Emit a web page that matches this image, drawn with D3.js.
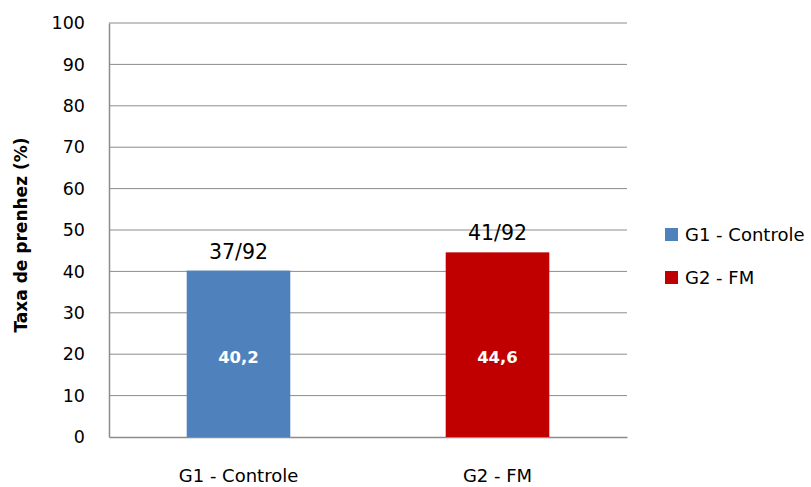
<!DOCTYPE html>
<html>
<head>
<meta charset="utf-8">
<script src="https://cdn.jsdelivr.net/npm/d3@7"></script>
<style>
  html, body { margin: 0; padding: 0; background: #fff; }
  svg { display: block; }
  text { font-family: "DejaVu Sans", sans-serif; }
</style>
</head>
<body>
<svg id="chart" width="811" height="487"></svg>
<script>
// Pregnancy rate by group
const categories = ["G1 - Controle", "G2 - FM"];
const rates = [40.2, 44.6];
const rateLabels = ["40,2", "44,6"];
const countLabels = ["37/92", "41/92"];
const colors = ["#4F81BD", "#C00000"];
const yTicks = [0, 10, 20, 30, 40, 50, 60, 70, 80, 90, 100];

const svg = d3.select("#chart");
const plotLeft = 109, plotRight = 627, plotTop = 23, plotBottom = 437;
const fontFamily = "'DejaVu Sans', sans-serif";

const x = d3.scaleBand()
  .domain(categories)
  .range([plotLeft, plotRight])
  .paddingInner(0.6)
  .paddingOuter(0.3);

const y = d3.scaleLinear().domain([0, 100]).range([plotBottom, plotTop]);

// Horizontal gridlines
svg.append("g")
  .selectAll("line")
  .data(yTicks.filter(d => d > 0))
  .join("line")
  .attr("x1", plotLeft).attr("x2", plotRight)
  .attr("y1", d => y(d)).attr("y2", d => y(d))
  .attr("stroke", "#8c8c8c")
  .attr("stroke-width", 1);

// Y axis: tick labels and the axis line
const yAxis = svg.append("g")
  .attr("transform", `translate(${plotLeft},0)`)
  .call(d3.axisLeft(y).tickValues(yTicks).tickSize(0).tickPadding(24));
yAxis.select(".domain").attr("stroke", "#8c8c8c").attr("stroke-width", 1.5);
yAxis.selectAll("text")
  .attr("font-size", 17.5)
  .attr("fill", "#000")
  .style("font-family", fontFamily);

// X axis
const xAxis = svg.append("g")
  .attr("transform", `translate(0,${plotBottom})`)
  .call(d3.axisBottom(x).tickSize(0).tickPadding(32));
xAxis.select(".domain").attr("stroke", "#8c8c8c").attr("stroke-width", 1.5);
xAxis.selectAll("text")
  .attr("font-size", 18)
  .attr("fill", "#000")
  .style("font-family", fontFamily);

// Bars
svg.append("g")
  .selectAll("rect")
  .data(rates)
  .join("rect")
  .attr("x", (d, i) => x(categories[i]))
  .attr("width", x.bandwidth())
  .attr("y", d => y(d))
  .attr("height", d => y(0) - y(d))
  .attr("fill", (d, i) => colors[i]);

// Value labels inside bars
svg.append("g")
  .selectAll("text")
  .data(rates)
  .join("text")
  .attr("x", (d, i) => x(categories[i]) + x.bandwidth() / 2)
  .attr("y", y(19.3))
  .attr("dy", "0.36em")
  .attr("text-anchor", "middle")
  .attr("font-size", 16.5)
  .attr("font-weight", "bold")
  .attr("fill", "#fff")
  .text((d, i) => rateLabels[i]);

// Count labels above bars
svg.append("g")
  .selectAll("text")
  .data(rates)
  .join("text")
  .attr("x", (d, i) => x(categories[i]) + x.bandwidth() / 2)
  .attr("y", d => y(d) - 12)
  .attr("text-anchor", "middle")
  .attr("font-size", 20.5)
  .attr("fill", "#000")
  .text((d, i) => countLabels[i]);

// Y axis title
svg.append("text")
  .attr("transform", `translate(27,235) rotate(-90)`)
  .attr("text-anchor", "middle")
  .attr("font-size", 17)
  .attr("font-weight", "bold")
  .attr("fill", "#000")
  .text("Taxa de prenhez (%)");

// Legend
const legend = svg.append("g")
  .selectAll("g")
  .data(categories)
  .join("g")
  .attr("transform", (d, i) => `translate(665,${228 + i * 43})`);
legend.append("rect")
  .attr("width", 13).attr("height", 13)
  .attr("fill", (d, i) => colors[i]);
legend.append("text")
  .attr("x", 20).attr("y", 7)
  .attr("dy", "0.36em")
  .attr("font-size", 18)
  .attr("fill", "#000")
  .text(d => d);
</script>
</body>
</html>
